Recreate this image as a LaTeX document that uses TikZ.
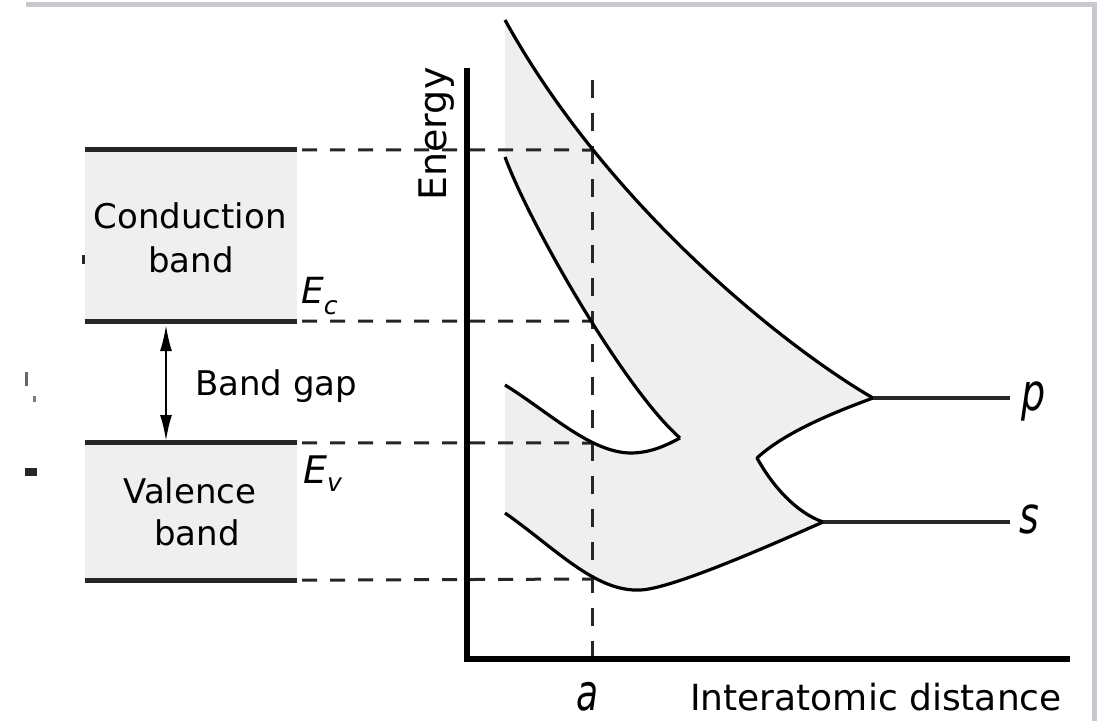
\documentclass[tikz,border=0pt]{standalone}
\usepackage{fontspec}
\setmainfont{DejaVu Sans}
\usetikzlibrary{arrows.meta}
\definecolor{bandfill}{HTML}{EFEFEF}
\definecolor{edge}{HTML}{262626}
\definecolor{frame}{HTML}{C8C9CE}
\begin{document}
\begin{tikzpicture}[x=1pt,y=-1pt,
  bandbox/.style={fill=bandfill, draw=none, inner sep=0pt},
  bandedge/.style={line width=5pt, draw=edge},
  level/.style={line width=4pt, draw=edge},
  curve/.style={line width=3.2pt, draw=black, line join=round},
  guide/.style={line width=3pt, draw=edge, dash pattern=on 15pt off 13pt},
  vguide/.style={line width=3pt, draw=edge, dash pattern=on 18pt off 15pt},
  axis/.style={line width=6pt, draw=black, line join=miter},
  lbl/.style={inner sep=0pt, anchor=base, font=\fontsize{34}{40}\selectfont},
  axlbl/.style={inner sep=0pt, anchor=base, font=\fontsize{36}{40}\selectfont},
  gaparrow/.style={line width=2.2pt, draw=black, {Latex[length=26pt,width=12pt]}-{Latex[length=26pt,width=12pt]}}
]
\useasboundingbox (0,0) rectangle (1099,721);
% frame
\draw[frame, line width=5pt] (26,4.5) -- (1094.5,4.5) -- (1094.5,721);
% stray marks at left edge
\fill[edge] (82,255) rectangle (88,264);
\fill[edge!70] (25,372) rectangle (28,386);
\fill[edge!60] (33,396) rectangle (36,402);
\fill[edge] (25,468) rectangle (37,476);

% band boxes
\node[bandbox, minimum width=212pt, minimum height=171pt] (cb) at (191,235.5) {};
\node[bandbox, minimum width=212pt, minimum height=137pt] (vb) at (191,511.5) {};
\draw[bandedge] (cb.north west) -- (cb.north east);
\draw[bandedge] (cb.south west) -- (cb.south east);
\draw[bandedge] (vb.north west) -- (vb.north east);
\draw[bandedge] (vb.south west) -- (vb.south east);
\node[lbl] (cbt1) at (190,228) {Conduction};
\node[lbl] (cbt2) at (191,272) {band};
\node[lbl] (vbt1) at (190,503) {Valence};
\node[lbl] (vbt2) at (197,545) {band};

% band gap arrow
\coordinate (gt) at (166,325);
\coordinate (gb) at (166,441);
\draw[gaparrow] (gt) -- (gb);
\node[lbl, anchor=base west] (gap) at (195,395) {Band gap};

% E labels
\node[inner sep=0pt, anchor=base west, font=\fontsize{36}{40}\selectfont] (ec) at (301,303)
  {\itshape E\raisebox{-11pt}{\fontsize{25}{25}\selectfont c}};
\node[inner sep=0pt, anchor=base west, font=\fontsize{38}{40}\selectfont] (ev) at (303,483)
  {\itshape E\raisebox{-8pt}{\fontsize{25}{25}\selectfont v}};

% energy bands fill
\fill[bandfill] (505,20) .. controls (610,210) and (790,350) .. (873,398)
  .. controls (835,412) and (785,432) .. (757,458)
  .. controls (772,485) and (795,512) .. (823,522)
  .. controls (760,550) and (670,589) .. (640,590)
  .. controls (595,592) and (555,548) .. (505,513)
  -- (505,385)
  .. controls (550,413) and (590,452) .. (630,453)
  .. controls (650,453) and (665,446) .. (680,438)
  .. controls (625,390) and (530,225) .. (505,157)
  -- cycle;

% guide coordinates
\coordinate (a1) at (592,150);
\coordinate (a2) at (592,321);
\coordinate (a3) at (592,443);
\coordinate (a4) at (592,579);
\coordinate (atop) at (592,80);
\coordinate (abot) at (592,657);
\draw[guide] ([xshift=5pt]cb.north east) -- (a1);
\draw[guide] ([xshift=5pt]cb.south east) -- (a2);
\draw[guide] ([xshift=5pt]vb.north east) -- (a3);
\draw[guide] ([xshift=5pt]vb.south east) -- (a4);
\draw[vguide] (atop) -- (abot);

% band curves
\coordinate (c1s) at (505,20);
\coordinate (pj) at (873,398);
\coordinate (notch) at (757,458);
\coordinate (sj) at (823,522);
\coordinate (lbot) at (640,590);
\coordinate (l3s) at (505,513);
\coordinate (l4s) at (505,385);
\coordinate (l4m) at (630,453);
\coordinate (tip) at (680,438);
\coordinate (l5s) at (505,157);
\coordinate (pend) at (1010,398);
\coordinate (send) at (1010,522);
\draw[curve] (c1s) .. controls (610,210) and (790,350) .. (pj);
\draw[curve] (pj) .. controls (835,412) and (785,432) .. (notch)
  .. controls (772,485) and (795,512) .. (sj);
\draw[curve] (l3s) .. controls (555,548) and (595,592) .. (lbot)
  .. controls (670,589) and (760,550) .. (sj);
\draw[curve] (l4s) .. controls (550,413) and (590,452) .. (l4m)
  .. controls (650,453) and (665,446) .. (tip);
\draw[curve] (l5s) .. controls (530,225) and (625,390) .. (tip);
\draw[level] (pj) -- (pend);
\draw[level] (sj) -- (send);
\node[inner sep=0pt, anchor=base west, font=\fontsize{38}{40}\selectfont] (plab) at (1021,410)
  {\scalebox{1}[1.35]{\itshape p}};
\node[inner sep=0pt, anchor=base west, font=\fontsize{38}{40}\selectfont] (slab) at (1019,533)
  {\scalebox{1}[1.35]{\itshape s}};

% axes
\coordinate (ytop) at (467,68);
\coordinate (origin) at (467,659);
\coordinate (xend) at (1070,659);
\draw[axis] (ytop) -- (origin) -- (xend);
\node[axlbl, rotate=90, font=\fontsize{38}{40}\selectfont] (ylab) at (446,134) {Energy};
\node[axlbl] (alab) at (588,710) {\scalebox{1}[1.4]{\itshape a}};
\node[axlbl] (xlab) at (876,710) {Interatomic distance};
\end{tikzpicture}
\end{document}
